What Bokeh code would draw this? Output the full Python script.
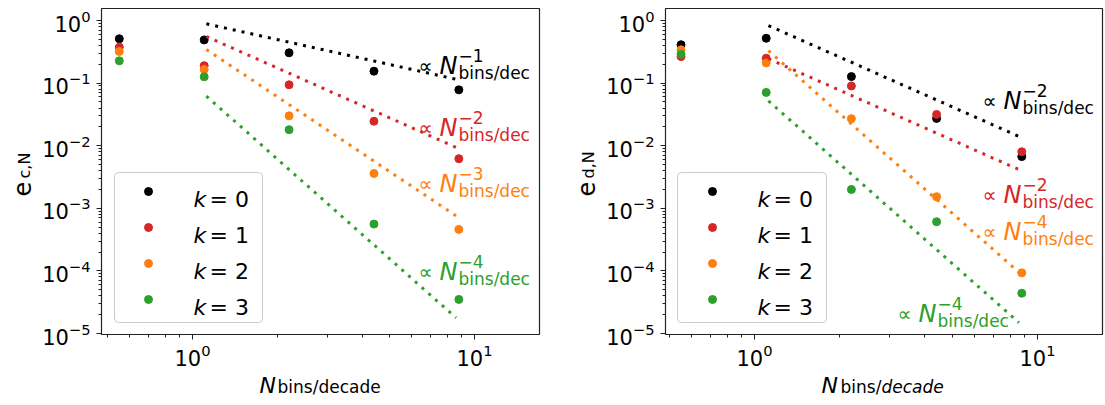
import numpy as np
from bokeh.plotting import figure
from bokeh.models import Label, BoxAnnotation, FixedTicker, Range1d
from bokeh.layouts import row
from bokeh.embed import file_html
from bokeh.resources import INLINE

# ---------------- data ----------------
N_bins = [0.55, 1.1, 2.2, 4.4, 8.8]
k_names = ["0", "1", "2", "3"]
colors = ["black", "#d62728", "#ff7f0e", "#2ca02c"]

# left panel: e_{c,N}
ec_k0 = [0.51, 0.49, 0.305, 0.155, 0.078]
ec_k1 = [0.375, 0.19, 0.094, 0.0246, 0.0062]
ec_k2 = [0.32, 0.165, 0.030, 0.0036, 0.00046]
ec_k3 = [0.227, 0.126, 0.018, 0.00056, 3.5e-5]

# right panel: e_{d,N}
ed_k0 = [0.41, 0.52, 0.127, 0.0273, 0.0067]
ed_k1 = [0.265, 0.25, 0.090, 0.0316, 0.0080]
ed_k2 = [0.34, 0.21, 0.027, 0.00153, 9.3e-5]
ed_k3 = [0.29, 0.071, 0.0020, 0.00061, 4.4e-5]

# reference power laws  amp * (N / N0)^pow  over ref_x
ref_x = [1.12, 8.6]
ec_ref_amp = [0.885, 0.555, 0.344, 0.062]
ec_ref_pow = [-1, -2, -3, -4]
ed_ref_amp = [0.83, 0.245, 0.33, 0.052]
ed_ref_pow = [-2, -2, -4, -4]

x_major = [1, 10]
x_minor = [0.5, 0.6, 0.7, 0.8, 0.9, 2, 3, 4, 5, 6, 7, 8, 9]
y_major = [1e-5, 1e-4, 1e-3, 1e-2, 1e-1, 1]
y_minor = [m * 10.0 ** e for e in range(-5, 0) for m in range(2, 10)]

FONT = "DejaVu Sans"
H = 405
# page geometry (pixels): canvas left CL, visual frame L..R, T..B,
# x decade size and position of 10^0
Y0, YPD = 20.0, 62.6
G1 = dict(CL=0, W=549, L=101, R=539, T=8, B=334, X0=192.0, XPD=282.0)
G2 = dict(CL=549, W=556, L=665, R=1102, T=8, B=334, X0=754.0, XPD=283.0)


def lx(g, px):
    return 10 ** ((px - g["X0"]) / g["XPD"])


def ly(py):
    return 10 ** (-(py - Y0) / YPD)


def make_panel(g, series, amps, pows):
    p = figure(width=g["W"], height=H, x_axis_type="log", y_axis_type="log",
               x_range=Range1d(lx(g, g["CL"]), lx(g, g["CL"] + g["W"])),
               y_range=Range1d(ly(H), ly(0)), title=None,
               output_backend="svg", toolbar_location=None,
               min_border_left=0, min_border_right=0, min_border_top=0, min_border_bottom=0)
    p.grid.visible = False
    p.outline_line_color = None
    p.background_fill_color = "white"
    p.border_fill_color = "white"
    fx0, fx1 = lx(g, g["L"]), lx(g, g["R"])
    fy0, fy1 = ly(g["B"]), ly(g["T"])
    p.xaxis.ticker = FixedTicker(ticks=x_major, minor_ticks=x_minor)
    p.yaxis.ticker = FixedTicker(ticks=y_major, minor_ticks=y_minor)
    p.xaxis.fixed_location = fy0
    p.yaxis.fixed_location = fx0
    p.xaxis.bounds = (fx0, fx1)
    p.yaxis.bounds = (fy0, fy1)
    for ax in (p.xaxis, p.yaxis):
        ax.axis_line_color = None
        ax.major_tick_line_color = "#222222"
        ax.minor_tick_line_color = "#222222"
        ax.major_tick_out = 5
        ax.major_tick_in = 0
        ax.minor_tick_out = 3
        ax.minor_tick_in = 0
        ax.major_label_text_font = FONT
        ax.major_label_text_font_size = "21px"
        ax.major_label_text_color = "black"
    p.yaxis.major_label_standoff = 6
    p.xaxis.major_label_standoff = 4

    # visual axes frame
    p.add_layout(BoxAnnotation(left=fx0, right=fx1, bottom=fy0, top=fy1,
                               fill_color=None, fill_alpha=0,
                               line_color="#222222", line_alpha=1.0, line_width=1.2))

    for vals, c in zip(series, colors):
        p.scatter(N_bins, vals, size=8, color=c, marker="circle")
    rx = np.array(ref_x)
    for a, pw, c in zip(amps, pows, colors):
        p.line(rx, a * (rx / rx[0]) ** pw, line_color=c, line_width=3, line_dash="3 6")
    return p


p1 = make_panel(G1, [ec_k0, ec_k1, ec_k2, ec_k3], ec_ref_amp, ec_ref_pow)
p2 = make_panel(G2, [ed_k0, ed_k1, ed_k2, ed_k3], ed_ref_amp, ed_ref_pow)


def txt(p, g, px, py, text, size, color="black", style="normal", angle=0.0,
        align="left", baseline="alphabetic"):
    p.add_layout(Label(x=px - g["CL"], y=H - py, x_units="screen", y_units="screen",
                       text=text, text_font=FONT, text_font_size=f"{size}px",
                       text_color=color, text_font_style=style, angle=angle,
                       text_align=align, text_baseline=baseline))


def power_label(p, g, x0, yb, exp_text, color):
    txt(p, g, x0, yb, "\u221d", 20, color)
    txt(p, g, x0 + 21, yb, "N", 24, color, "italic")
    txt(p, g, x0 + 40, yb - 10, exp_text, 17, color)
    txt(p, g, x0 + 40, yb + 7, "bins/dec", 17, color)


def legend(p, g, bx0, bx1, mx, tx):
    p.add_layout(BoxAnnotation(left=bx0 - g["CL"], right=bx1 - g["CL"],
                               top=H - 172, bottom=H - 322,
                               left_units="screen", right_units="screen",
                               top_units="screen", bottom_units="screen",
                               fill_color="white", fill_alpha=0.8,
                               line_color="#cccccc", line_alpha=1.0, line_width=1,
                               border_radius=4, level="underlay"))
    for i, (kn, c) in enumerate(zip(k_names, colors)):
        my = 191 + 36 * i
        p.scatter([lx(g, mx)], [ly(my)], size=8, color=c, marker="circle")
        txt(p, g, tx, my + 8, "k", 22, "black", "italic")
        txt(p, g, tx + 16, my + 8, "= " + kn, 22, "black")


# ---- left panel texts ----
power_label(p1, G1, 418, 65, "\u22121", colors[0])
power_label(p1, G1, 418, 127, "\u22122", colors[1])
power_label(p1, G1, 418, 183, "\u22123", colors[2])
power_label(p1, G1, 418, 271, "\u22124", colors[3])
legend(p1, G1, 114, 262, 148, 193)
txt(p1, G1, 259, 385, "N", 22, "black", "italic")
txt(p1, G1, 277, 386, "bins/", 17, "black")
txt(p1, G1, 318, 386, "decade", 17, "black")
txt(p1, G1, 21, 196, "e", 24, "black", angle=np.pi / 2)
txt(p1, G1, 24, 178, "c,N", 16, "black", angle=np.pi / 2)

# ---- right panel texts ----
power_label(p2, G2, 982, 100, "\u22122", colors[0])
power_label(p2, G2, 982, 194, "\u22122", colors[1])
power_label(p2, G2, 982, 231, "\u22124", colors[2])
power_label(p2, G2, 897, 313, "\u22124", colors[3])
legend(p2, G2, 677, 826, 712, 757)
txt(p2, G2, 821, 385, "N", 22, "black", "italic")
txt(p2, G2, 840, 386, "bins/", 17, "black")
txt(p2, G2, 881, 386, "decade", 17, "black", "italic")
txt(p2, G2, 585, 196, "e", 24, "black", angle=np.pi / 2)
txt(p2, G2, 588, 178, "d,N", 16, "black", angle=np.pi / 2)

layout = row(p1, p2)
open("out.html", "w").write(file_html(layout, INLINE))
